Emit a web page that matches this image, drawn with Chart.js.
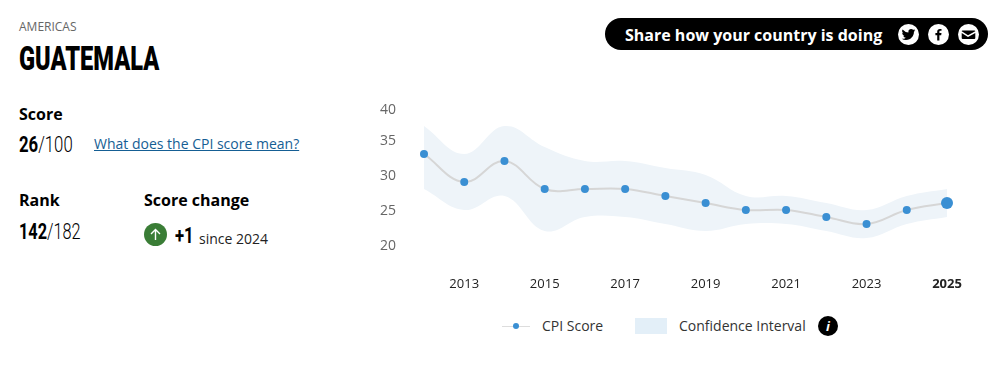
<!DOCTYPE html>
<html lang="en">
<head>
  <meta charset="UTF-8">
  <title>Guatemala CPI</title>
  <script src="https://cdn.jsdelivr.net/npm/chart.js"></script>
  <style>
    html, body { margin: 0; padding: 0; background: #fff; }
    body { width: 998px; height: 380px; position: relative; overflow: hidden; font-family: 'Open Sans', sans-serif; color: #000; }
    .abs { position: absolute; white-space: nowrap; }
    /* no Oswald here, so squeeze Roboto instead */
    .narrow { font-family: 'Roboto', sans-serif; display: inline-block; transform-origin: left center; transform: scaleX(.76); }
    .region { left: 19px; top: 18px; font-size: 12px; line-height: 18px; color: #666; }
    .country { left: 19px; top: 39px; font-size: 33px; line-height: 40px; font-weight: 900; transform: scaleX(.715); }
    .label { font-size: 16px; line-height: 22px; font-weight: 700; }
    .num { font-size: 22px; line-height: 28px; font-weight: 300; }
    .num b { font-weight: 700; }
    .link { left: 94px; top: 134px; font-size: 14px; line-height: 20px; color: #155e94; text-decoration: underline; }
    .up { left: 144px; top: 223px; width: 23px; height: 23px; border-radius: 50%; background: #3a7d36; }
    .since { left: 199px; top: 230px; font-size: 14px; line-height: 18px; color: #222; }
    .pill { left: 605px; top: 18px; width: 383px; height: 32px; border-radius: 16px; background: #000; }
    .share { left: 625px; top: 24px; font-size: 16px; line-height: 23px; font-weight: 700; color: #fff; }
    .icon { top: 24px; width: 21px; height: 21px; border-radius: 50%; background: #fff; }
    #chart-wrap { position: absolute; left: 370px; top: 90px; width: 628px; height: 210px; }
    .legend { font-size: 14px; line-height: 20px; color: #333; }
  </style>
</head>
<body>
  <div class="abs region">AMERICAS</div>
  <div class="abs country narrow">GUATEMALA</div>

  <div class="abs label" style="left:19px;top:103px">Score</div>
  <div class="abs num narrow" style="left:19px;top:131px"><b>26</b>/100</div>
  <a class="abs link">What does the CPI score mean?</a>

  <div class="abs label" style="left:19px;top:189px">Rank</div>
  <div class="abs num narrow" style="left:19px;top:218px;transform:scaleX(.74)"><b>142</b>/182</div>

  <div class="abs label" style="left:144px;top:189px">Score change</div>
  <div class="abs up">
    <svg width="23" height="23" viewBox="0 0 23 23"><path d="M11.5 17V6.5M7 11l4.5-4.5L16 11" fill="none" stroke="#fff" stroke-width="1.4"/></svg>
  </div>
  <div class="abs num narrow" style="left:175px;top:222px"><b>+1</b></div>
  <div class="abs since">since 2024</div>

  <div class="abs pill"></div>
  <div class="abs share">Share how your country is doing</div>
  <div class="abs icon" style="left:898px">
    <svg width="21" height="21" viewBox="0 0 24 24"><path transform="translate(4.2 4.2) scale(.65)" d="M23.95 4.57a10 10 0 0 1-2.82.77 4.96 4.96 0 0 0 2.16-2.72 9.9 9.9 0 0 1-3.12 1.19 4.92 4.92 0 0 0-8.38 4.48A13.98 13.98 0 0 1 1.64 3.16a4.92 4.92 0 0 0 1.52 6.57 4.9 4.9 0 0 1-2.23-.62v.06a4.92 4.92 0 0 0 3.95 4.83 4.99 4.99 0 0 1-2.21.08 4.94 4.94 0 0 0 4.6 3.42A9.87 9.87 0 0 1 0 19.54a13.94 13.94 0 0 0 7.55 2.21c9.05 0 14-7.5 14-13.98 0-.21 0-.42-.02-.63a9.94 9.94 0 0 0 2.46-2.55z" fill="#000"/></svg>
  </div>
  <div class="abs icon" style="left:928px">
    <svg width="21" height="21" viewBox="0 0 21 21"><path d="M11.4 16.5v-5.3h1.8l.3-2.1h-2.1V7.8c0-.6.2-1 1-1h1.1V5c-.2 0-.9-.1-1.6-.1-1.6 0-2.7 1-2.7 2.7v1.5H7.4v2.1h1.8v5.3z" fill="#000"/></svg>
  </div>
  <div class="abs icon" style="left:958px">
    <svg width="21" height="21" viewBox="0 0 21 21"><path d="M4.5 6.5h12a.8.8 0 0 1 .8.8l-7.3 4-6.3-4a.8.8 0 0 1 .8-.8zM3.7 9l6.3 3.9L17.3 9v5a1 1 0 0 1-1 1H4.7a1 1 0 0 1-1-1z" fill="#000"/></svg>
  </div>

  <div id="chart-wrap"><canvas id="cpiChart" width="628" height="210"></canvas></div>

  <div class="abs" style="left:502px;top:325.5px;width:28px;height:1px;background:#ddd"></div>
  <div class="abs" style="left:513px;top:323px;width:6px;height:6px;border-radius:50%;background:#3a8fd3"></div>
  <div class="abs legend" style="left:542px;top:316px">CPI Score</div>
  <div class="abs" style="left:635px;top:318px;width:32px;height:16px;background:#e3eff8"></div>
  <div class="abs legend" style="left:679px;top:316px">Confidence Interval</div>
  <div class="abs" style="left:818px;top:316px;width:20px;height:20px;border-radius:50%;background:#000;color:#fff;font:italic 700 13px/20px 'Open Sans',sans-serif;text-align:center">i</div>

  <script>
    // Values
    const years = ['2012','2013','2014','2015','2016','2017','2018','2019','2020','2021','2022','2023','2024','2025'];
    const cpiScore = [33,29,32,28,28,28,27,26,25,25,24,23,25,26];
    const ciUpper = [37,33,37,34,32,32,31,30,27,27,26,25,27,28];
    const ciLower = [28,25,27,22,24,24,23,22,23,23,22,21,23,24];
    const yTicks = [20,25,30,35,40];
    const xLabelYears = ['2013','2015','2017','2019','2021','2023','2025'];

    const lastIdx = years.length - 1;

    new Chart(document.getElementById('cpiChart'), {
      type: 'line',
      data: {
        labels: years,
        datasets: [
          {
            label: 'CPI Score',
            data: cpiScore,
            borderColor: '#d6d6d6',
            borderWidth: 2,
            tension: 0.4,
            clip: false,
            pointBackgroundColor: '#3a8fd3',
            pointBorderWidth: 0,
            pointRadius: ctx => ctx.dataIndex === lastIdx ? 6 : 4,
            order: 1
          },
          {
            label: 'upper',
            data: ciUpper,
            borderWidth: 0,
            pointRadius: 0,
            tension: 0.4,
            fill: '+1',
            backgroundColor: '#eef4f9',
            order: 2
          },
          {
            label: 'lower',
            data: ciLower,
            borderWidth: 0,
            pointRadius: 0,
            tension: 0.4,
            fill: false,
            order: 3
          }
        ]
      },
      options: {
        responsive: false,
        animation: false,
        layout: { padding: { top: 15, right: 51, bottom: 0, left: 0 } },
        plugins: { legend: { display: false }, tooltip: { enabled: false } },
        scales: {
          x: {
            type: 'category',
            offset: false,
            border: { display: false },
            grid: { display: false, drawTicks: false },
            afterFit: s => { s.height = 55; s.paddingLeft = 0; s.paddingRight = 0; },
            ticks: {
              autoSkip: false,
              maxRotation: 0,
              padding: 31,
              color: '#222',
              font: ctx => ({
                family: "'Open Sans', sans-serif",
                size: 13,
                weight: ctx.index === lastIdx ? '700' : '400'
              }),
              callback: function (v) {
                const y = this.getLabelForValue(v);
                return xLabelYears.includes(y) ? y : '';
              }
            }
          },
          y: {
            min: 20,
            max: 40,
            border: { display: false },
            grid: { display: false, drawTicks: false },
            afterBuildTicks: s => { s.ticks = yTicks.map(v => ({ value: v })); },
            afterFit: s => { s.width = 54; s.paddingTop = 0; s.paddingBottom = 0; },
            ticks: {
              padding: 28,
              color: '#666',
              // two-line labels with an empty first line push the text down:
              // 1px for all of them, 5px for the top one as in the original
              font: ctx => ({
                family: "'Open Sans', sans-serif",
                size: 14,
                lineHeight: ctx.tick && ctx.tick.value === 40 ? '10px' : '2px'
              }),
              callback: v => ['', String(v)]
            }
          }
        }
      }
    });
  </script>
</body>
</html>
